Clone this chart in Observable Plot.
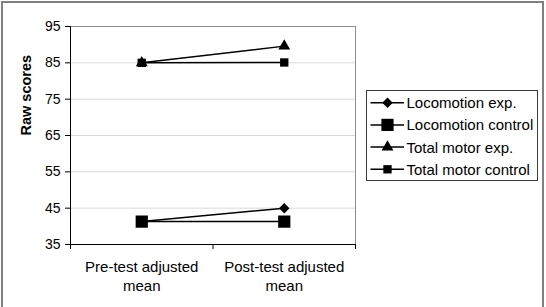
<!DOCTYPE html>
<html>
<head>
<meta charset="utf-8">
<script src="https://cdn.jsdelivr.net/npm/d3@7"></script>
<script src="https://cdn.jsdelivr.net/npm/@observablehq/plot@0.6"></script>
<style>
  html, body { margin: 0; padding: 0; background: #fff; }
  #wrap { position: relative; width: 546px; height: 307px; overflow: hidden; background: #fff;
          font-family: "Liberation Sans", Arial, sans-serif; }
  #outer { position: absolute; left: 1px; top: 1px; width: 539px; height: 400px; border: 2px solid #808080; }
  #chart { position: absolute; left: 0; top: 0; }
  #legend { position: absolute; left: 366px; top: 90px; width: 172px; height: 91px;
            box-sizing: border-box; border: 1px solid #3a3a3a; background: #fff; }
  #legend svg { position: absolute; left: -1px; top: -1px; }
</style>
</head>
<body>
<div id="wrap">
  <div id="outer"></div>
  <div id="chart"></div>
  <div id="legend"></div>
</div>
<script>
// ---- data ----
const categories = ["Pre-test adjusted\nmean", "Post-test adjusted\nmean"];
const seriesNames = ["Locomotion exp.", "Locomotion control", "Total motor exp.", "Total motor control"];
const locomotionExp = [41.3, 45.0];
const locomotionControl = [41.3, 41.3];
const totalMotorExp = [85.0, 89.6];
const totalMotorControl = [85.0, 85.1];
const yTicks = [35, 45, 55, 65, 75, 85, 95];

// ---- marker styles ----
const markerSymbols = ["diamond2", "square", "triangle", "square"];
const markerRadii = [4.7, 6.9, 4.4, 4.7];

const seriesValues = [locomotionExp, locomotionControl, totalMotorExp, totalMotorControl];
const rows = [];
seriesNames.forEach((s, si) => {
  seriesValues[si].forEach((v, ci) => rows.push({series: s, si, ci, category: categories[ci], value: v}));
});
const xPos = d => d.ci + 0.5;

const seriesMarks = [];
seriesNames.forEach((s, si) => {
  const data = rows.filter(r => r.series === s);
  seriesMarks.push(Plot.line(data, {x: xPos, y: "value", stroke: "#000", strokeWidth: 1.5}));
  seriesMarks.push(Plot.dot(data, {x: xPos, y: "value", symbol: markerSymbols[si], r: markerRadii[si], fill: "#000", stroke: "none"}));
});

const chart = Plot.plot({
  width: 546,
  height: 307,
  marginLeft: 70,
  marginRight: 191,
  marginTop: 26,
  marginBottom: 63,
  style: {fontFamily: "'Liberation Sans', Arial, sans-serif", fontSize: "14px", color: "#000", background: "transparent"},
  x: {type: "linear", domain: [0, categories.length]},
  y: {domain: [yTicks[0], yTicks[yTicks.length - 1]]},
  marks: [
    Plot.gridY(yTicks.slice(1, -1), {stroke: "#d9d9d9", strokeOpacity: 1}),
    Plot.frame({stroke: "#8c8c8c"}),
    Plot.ruleX([0], {stroke: "#000"}),
    Plot.ruleY([yTicks[0]], {stroke: "#000"}),
    Plot.axisY({ticks: yTicks, tickSize: 5, tickPadding: 5, label: null, fontSize: 14}),
    Plot.axisX({ticks: d3.range(0, categories.length + 1), tickSize: 5, tickFormat: () => "", label: null}),
    Plot.text(categories, {x: (d, i) => i + 0.5, text: d => d, frameAnchor: "bottom", lineAnchor: "top",
                           dy: 13.5, lineHeight: 1.29, fontSize: 15}),
    ...seriesMarks,
    Plot.text(["Raw scores"], {text: d => d, frameAnchor: "left", dx: -44, rotate: -90,
                               fontWeight: "bold", fontSize: 14.5})
  ]
});
document.getElementById("chart").appendChild(chart);

// ---- legend ----
const symbolMap = {diamond2: d3.symbolDiamond2, square: d3.symbolSquare, triangle: d3.symbolTriangle};
const lsvg = d3.select("#legend").append("svg").attr("width", 172).attr("height", 91)
  .style("font-family", "'Liberation Sans', Arial, sans-serif");
seriesNames.forEach((s, i) => {
  const y = 12.7 + i * 22.2;
  const g = lsvg.append("g").attr("transform", `translate(0,${y})`);
  g.append("line").attr("x1", 4.5).attr("x2", 38).attr("y1", 0).attr("y2", 0)
    .attr("stroke", "#000").attr("stroke-width", 1.5);
  g.append("path").attr("transform", "translate(21.5,0)")
    .attr("d", d3.symbol(symbolMap[markerSymbols[i]], markerRadii[i] * markerRadii[i] * Math.PI)())
    .attr("fill", "#000");
  g.append("text").attr("x", 40.5).attr("y", 0).attr("dy", "0.36em")
    .attr("font-size", 15).attr("fill", "#000").text(s);
});
</script>
</body>
</html>
